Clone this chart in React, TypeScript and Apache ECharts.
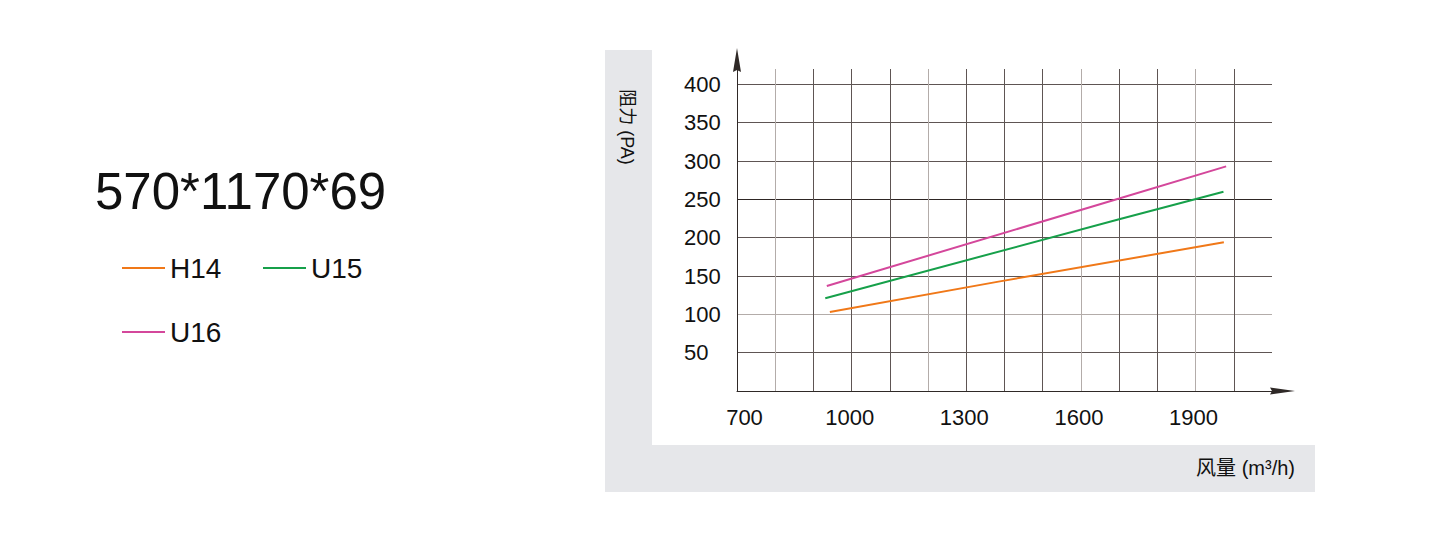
import React, { useEffect, useRef } from "react";
import * as echarts from "echarts";

const title = "570*1170*69";
const yAxisName = "阻力 (PA)";
const xAxisName = "风量 (m³/h)";
const xLabelValues = [700, 1000, 1300, 1600, 1900];
const yLabelValues = [50, 100, 150, 200, 250, 300, 350, 400];
const seriesNames = ["H14", "U15", "U16"];
const h14 = [[943, 103], [1388, 143], [1974, 194]];
const u15 = [[931, 121], [1700, 224], [1973, 260]];
const u16 = [[935, 137], [1700, 251], [1980, 293]];
const seriesColors = ["#f07818", "#16a04a", "#d4479b"];

const FONT = "'Liberation Sans', Arial, Helvetica, 'Noto Sans CJK SC', sans-serif";
const D = "#5e5553";
const L = "#b3aca9";
const K = "#2e2624";
const xSplitColors = [D, L, D, D, D, L, D, D, D, L, D, D, L, D, D];
const ySplitColors = [D, D, L, D, D, K, D, D, D, D];

export default function App() {
  const ref = useRef<HTMLDivElement>(null);
  useEffect(() => {
    if (!ref.current) return;
    const chart = echarts.init(ref.current, null, { renderer: "svg" });
    const dataSets = [h14, u15, u16];
    chart.setOption({
      animation: false,
      backgroundColor: "#ffffff",
      textStyle: { fontFamily: FONT },
      grid: {
        left: 737,
        top: 69,
        width: 535,
        height: 322,
        containLabel: false,
        outerBoundsMode: "none",
      },
      legend: {
        data: seriesNames,
        left: 122,
        top: 253,
        width: 260,
        padding: 0,
        itemGap: 34,
        itemWidth: 43,
        itemHeight: 2,
        icon: "rect",
        selectedMode: false,
        textStyle: {
          fontSize: 28,
          color: "#111111",
          fontFamily: FONT,
          width: 59,
          lineHeight: 30,
        },
      },
      xAxis: {
        type: "value",
        min: 700,
        max: 2100,
        interval: 100,
        axisLine: {
          show: true,
          symbol: ["none", "path://M3.5,0 L7,25 L3.5,23 L0,25 Z"],
          symbolSize: [7, 25],
          symbolOffset: [0, 10.5],
          lineStyle: { color: "#2f2927", width: 1 },
        },
        axisTick: { show: false },
        splitLine: {
          show: true,
          showMaxLine: false,
          lineStyle: { color: xSplitColors, width: 1 },
        },
        axisLabel: {
          margin: 15,
          fontSize: 22,
          color: "#111111",
          fontFamily: FONT,
          formatter: (v: number) =>
            v === xLabelValues[0]
              ? `{first|${v}}`
              : xLabelValues.includes(v)
              ? `{n|${v}}`
              : "",
          rich: {
            first: { padding: [0, 0, 0, 15], fontSize: 22, color: "#111111", fontFamily: FONT },
            n: { padding: [0, 4, 0, 0], fontSize: 22, color: "#111111", fontFamily: FONT },
          },
        },
      },
      yAxis: {
        type: "value",
        min: 0,
        max: 420,
        interval: 50,
        axisLine: {
          show: true,
          symbol: ["none", "path://M4,0 L8,24 L4,22 L0,24 Z"],
          symbolSize: [8, 24],
          symbolOffset: [0, 9],
          lineStyle: { color: "#2f2927", width: 1 },
        },
        axisTick: { show: false },
        splitLine: {
          show: true,
          showMaxLine: false,
          lineStyle: { color: ySplitColors, width: 1 },
        },
        axisLabel: {
          margin: 53,
          align: "left",
          fontSize: 22,
          color: "#111111",
          fontFamily: FONT,
          formatter: (v: number) => (yLabelValues.includes(v) ? String(v) : ""),
        },
      },
      series: seriesNames.map((name, i) => ({
        name,
        type: "line",
        data: dataSets[i],
        showSymbol: false,
        symbol: "none",
        smooth: false,
        lineStyle: { color: seriesColors[i], width: 2 },
        itemStyle: { color: seriesColors[i] },
        z: 3,
      })),
      graphic: [
        {
          type: "rect",
          shape: { x: 605, y: 50, width: 47, height: 442 },
          style: { fill: "#e6e7ea" },
          z: -10,
        },
        {
          type: "rect",
          shape: { x: 605, y: 445, width: 710, height: 47 },
          style: { fill: "#e6e7ea" },
          z: -10,
        },
        {
          type: "text",
          x: 95,
          y: 191,
          style: {
            text: title,
            fontSize: 51,
            fontFamily: FONT,
            fill: "#111111",
            align: "left",
            verticalAlign: "middle",
          },
        },
        {
          type: "text",
          x: 627,
          y: 127,
          rotation: -Math.PI / 2,
          style: {
            text: yAxisName,
            fontSize: 18,
            fontFamily: FONT,
            fill: "#111111",
            align: "center",
            verticalAlign: "middle",
          },
        },
        {
          type: "text",
          x: 1295,
          y: 468,
          style: {
            text: xAxisName,
            fontSize: 20,
            fontFamily: FONT,
            fill: "#111111",
            align: "right",
            verticalAlign: "middle",
          },
        },
      ],
    });
    return () => chart.dispose();
  }, []);
  return (
    <div
      ref={ref}
      style={{ position: "fixed", left: 0, top: 0, width: 1449, height: 547 }}
    />
  );
}
